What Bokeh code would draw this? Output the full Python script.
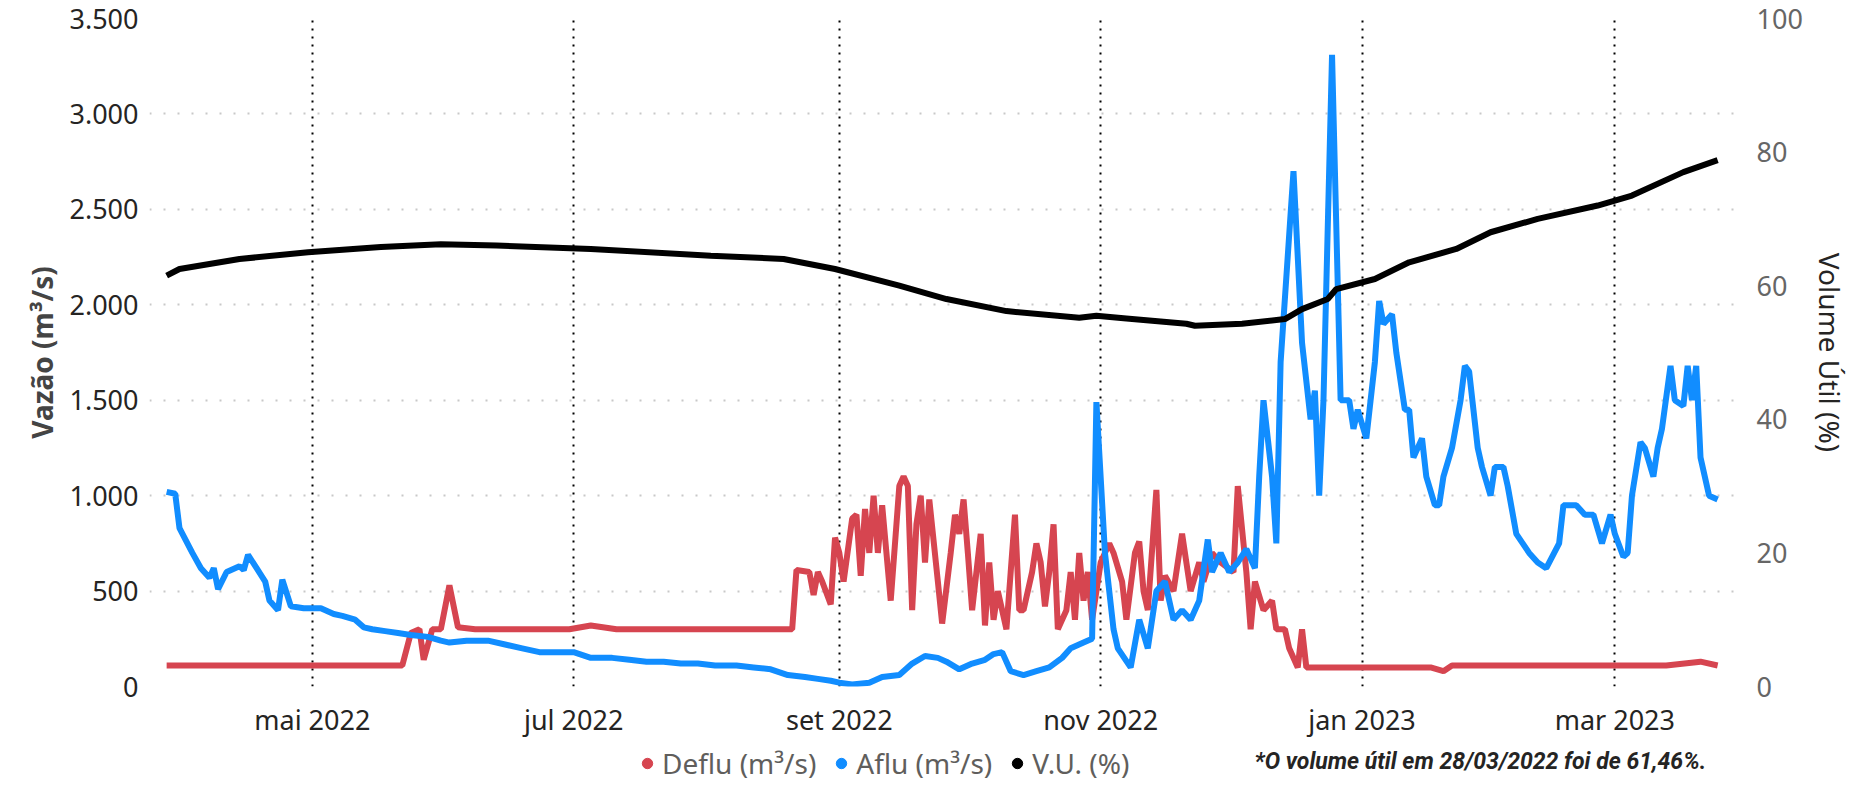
import datetime as dt
from bokeh.plotting import figure
from bokeh.layouts import column
from bokeh.models import (Range1d, LinearAxis, MonthsTicker, CustomJSTickFormatter,
                          Legend, LegendItem, Label, FixedTicker)
from bokeh.embed import file_html
from bokeh.resources import INLINE

base = dt.datetime(2022, 3, 28)

aflu_days = [0,2,3,6,8,10,11,12,14,17,18,19,21,23,24,26,27,29,32,36,39,41,44,46,48,51,54,57,61,64,66,70,75,79,83,87,91,95,99,104,108,112,116,120,124,128,133,137,141,145,149,152,155,157,160,164,167,171,174,177,180,182,185,188,191,193,195,197,200,203,206,209,211,214,216,217,219,221,222,225,227,229,231,233,235,237,239,241,243,244,246,248,250,252,254,255,256,258,259,260,263,265,267,268,269,270,272,274,276,277,278,280,282,283,284,286,287,289,290,291,293,294,296,297,298,300,302,303,304,306,307,309,310,312,313,315,318,320,322,325,326,329,331,333,335,337,338,340,341,342,344,345,347,348,349,351,352,354,355,356,357,358,360,362]
aflu = [1020,1010,830,700,620,570,620,510,600,630,610,690,620,550,450,400,560,420,410,410,380,370,350,310,300,290,280,270,260,240,230,240,240,220,200,180,180,180,150,150,140,130,130,120,120,110,110,100,90,60,50,40,30,20,10,20,50,60,120,160,150,130,90,120,140,170,180,80,60,80,100,150,200,230,250,1490,700,300,200,100,350,200,500,550,350,400,350,450,770,600,700,600,650,720,620,1100,1500,1100,750,1700,2700,1800,1400,1550,1000,1500,3310,1500,1500,1350,1450,1300,1700,2020,1900,1950,1750,1450,1450,1200,1300,1100,950,950,1100,1250,1500,1680,1650,1250,1150,1000,1150,1150,1050,800,700,650,620,750,950,950,900,900,750,900,800,680,700,1000,1280,1250,1100,1250,1350,1680,1500,1470,1680,1500,1680,1200,1000,980]

deflu_days = [0,20,40,55,57,59,60,62,64,66,68,72,86,94,99,105,122,138,146,147,150,151,152,153,155,156,157,158,160,161,162,163,164,165,166,167,168,169,171,172,173,174,175,176,177,178,180,181,183,184,185,186,187,188,190,191,192,193,194,195,196,197,198,199,200,202,203,204,205,206,207,208,210,211,212,213,214,215,216,218,220,221,223,224,226,227,228,229,231,232,233,235,237,239,241,242,244,246,249,250,252,253,254,256,258,259,261,262,264,265,266,280,295,298,300,330,350,358,362]
deflu = [110,110,110,110,280,300,140,300,300,530,310,300,300,300,320,300,300,300,300,610,600,480,600,550,430,780,700,550,880,900,580,930,700,1000,700,950,700,450,1050,1100,1050,400,850,1000,650,980,550,330,700,900,800,980,700,400,800,320,650,350,500,400,300,600,900,400,400,600,750,650,420,600,850,300,400,600,350,700,450,600,350,650,750,700,550,350,700,760,500,400,1030,450,580,500,800,500,650,550,700,650,600,1050,600,300,550,400,450,300,300,200,100,300,100,100,100,80,110,110,110,130,110]

vu_days = [0,3,17,33,50,64,77,99,127,144,156,171,182,196,213,217,224,238,240,251,261,265,271,273,282,290,301,309,320,334,342,354,362]
vu = [61.5,62.5,64,65,65.8,66.2,66,65.5,64.5,64,62.5,60,58,56.2,55.2,55.5,55.1,54.3,54,54.3,55,56.5,58,59.5,61,63.5,65.5,68,70,72,73.5,77,78.8]

legend_labels = ["Deflu (m³/s)", "Aflu (m³/s)", "V.U. (%)"]
colors = ["#D64550", "#118DFF", "black"]

def dates(ds):
    return [base + dt.timedelta(days=d) for d in ds]

FONT = "Noto Sans"
p = figure(frame_width=1596, frame_height=668, x_axis_type="datetime", output_backend="svg",
           toolbar_location=None,
           x_range=Range1d(dt.datetime(2022, 3, 24), dt.datetime(2023, 3, 31, 12)),
           y_range=Range1d(0, 3500),
           min_border_left=149, min_border_right=100, min_border_top=18, min_border_bottom=0)
p.outline_line_color = None
p.extra_y_ranges = {"vu": Range1d(0, 100)}

p.line(dates(deflu_days), deflu, color=colors[0], line_width=6)
p.line(dates(aflu_days), aflu, color=colors[1], line_width=6)
p.line(dates(vu_days), vu, color=colors[2], line_width=6, y_range_name="vu")

fmt_num = CustomJSTickFormatter(code="return tick.toString().replace(/\\B(?=(\\d{3})+(?!\\d))/g, '.');")
p.yaxis.ticker = FixedTicker(ticks=[0, 500, 1000, 1500, 2000, 2500, 3000, 3500])
p.yaxis.formatter = fmt_num
p.yaxis.axis_label = "Vazão (m³/s)"
ax2 = LinearAxis(y_range_name="vu", ticker=FixedTicker(ticks=[0, 20, 40, 60, 80, 100]),
                 axis_label="Volume Útil (%)")
p.add_layout(ax2, "right")

p.xaxis.ticker = MonthsTicker(months=[0, 2, 4, 6, 8, 10])
p.xaxis.formatter = CustomJSTickFormatter(code="""
const m=['jan','fev','mar','abr','mai','jun','jul','ago','set','out','nov','dez'];
const d=new Date(tick); return m[d.getUTCMonth()]+' '+d.getUTCFullYear();""")

for ax in p.axis:
    ax.axis_line_color = None
    ax.major_tick_line_color = None
    ax.minor_tick_line_color = None
    ax.major_label_text_font = FONT
    ax.major_label_text_font_size = "27px"
    ax.axis_label_text_font = FONT
    ax.axis_label_text_font_size = "28px"
    ax.axis_label_text_font_style = "normal"
    ax.major_label_text_color = "#252423"
p.yaxis[0].axis_label_text_font_style = "bold"
ax2.major_label_text_color = "#666666"
ax2.axis_label_text_color = "#252423"
p.xaxis.major_label_standoff = 8

p.xgrid.grid_line_color = "black"
p.xgrid.grid_line_dash = "2 6"
p.xgrid.grid_line_width = 2
p.ygrid.grid_line_color = "#C8C8C8"
p.ygrid.grid_line_dash = "2 12"
p.ygrid.grid_line_width = 2

# legend strip
lf = figure(width=1845, height=44, output_backend="svg", toolbar_location=None,
            x_range=Range1d(0, 1845), y_range=Range1d(0, 44), min_border=0)
lf.axis.visible = False
lf.grid.visible = False
lf.outline_line_color = None
dots = [lf.scatter([-100], [-100], marker="circle", size=26, color=c) for c in colors]
legend = Legend(items=[LegendItem(label=l, renderers=[d]) for l, d in zip(legend_labels, dots)],
                orientation="horizontal", location=(485, 2),
                label_text_font=FONT, label_text_font_size="28px",
                label_text_color="#605E5C", glyph_width=26, glyph_height=26,
                spacing=12, label_standoff=2, border_line_color=None,
                background_fill_alpha=0, margin=0, padding=0)
lf.add_layout(legend)
note = Label(x=1105, y=10, x_units="screen", y_units="screen", text_align="left",
             text="*O volume útil em 28/03/2022 foi de 61,46%.", text_font="Roboto",
             text_font_size="23px", text_font_style="bold italic", text_color="#252423")
lf.add_layout(note)

open("out.html", "w").write(file_html(column(p, lf, spacing=0), INLINE))
